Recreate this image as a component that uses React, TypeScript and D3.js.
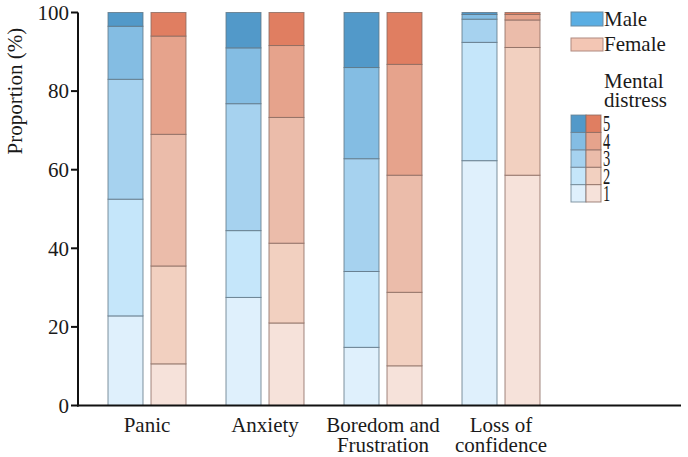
import React from "react";
import * as d3 from "d3";

const categories = ["Panic", "Anxiety", "Boredom and\nFrustration", "Loss of\nconfidence"];
const levels = [1, 2, 3, 4, 5];
// cumulative tops of each level (%)
const maleCum = [
  [22.8, 52.5, 83.0, 96.5, 100],
  [27.5, 44.5, 76.8, 91.0, 100],
  [14.8, 34.1, 62.8, 86.0, 100],
  [62.3, 92.4, 98.3, 99.5, 100],
];
const femaleCum = [
  [10.6, 35.5, 69.0, 94.0, 100],
  [21.0, 41.3, 73.3, 91.6, 100],
  [10.1, 28.8, 58.6, 86.8, 100],
  [58.6, 91.1, 98.1, 99.5, 100],
];
const yTicks = [0, 20, 40, 60, 80, 100];
const maleColors = ["#dff0fc", "#c5e6fa", "#a6d2ef", "#84bde3", "#5299c9"];
const femaleColors = ["#f6e2da", "#f2d0c0", "#ebbcaa", "#e6a38c", "#e07e61"];

export default function App() {
  const W = 688, H = 457;
  const font = "'Liberation Serif', 'Times New Roman', serif";
  const y = d3.scaleLinear().domain([0, 100]).range([405.5, 12.5]);
  const x = d3.scaleBand().domain(categories).range([88, 560]).paddingInner(0).paddingOuter(0);
  const barW = 35;
  const gap = 8;

  const bars: JSX.Element[] = [];
  categories.forEach((c, ci) => {
    const center = (x(c) as number) + x.bandwidth() / 2;
    [
      { cum: maleCum[ci], colors: maleColors, x0: center - gap / 2 - barW, stroke: "#5f7584" },
      { cum: femaleCum[ci], colors: femaleColors, x0: center + gap / 2, stroke: "#8a6a60" },
    ].forEach((s, si) => {
      s.cum.forEach((top, li) => {
        const bottom = li === 0 ? 0 : s.cum[li - 1];
        bars.push(
          <rect
            key={`${ci}-${si}-${li}`}
            x={s.x0}
            y={y(top)}
            width={barW}
            height={y(bottom) - y(top)}
            fill={s.colors[li]}
            stroke={s.stroke}
            strokeOpacity={0.8}
            strokeWidth={1}
          />
        );
      });
    });
  });

  return (
    <svg width={W} height={H} style={{ position: "absolute", left: 0, top: 0, background: "#fff" }}>
      <g fontFamily={font} fill="#1a1a1a">
        {bars}
        {/* y axis */}
        <line x1={78} x2={78} y1={y(100)} y2={y(0) + 1} stroke="#111" strokeWidth={2} />
        {yTicks.map((t) => (
          <g key={t}>
            <line x1={71} x2={78} y1={y(t)} y2={y(t)} stroke="#111" strokeWidth={2} />
            <text x={69} y={y(t)} dy="0.35em" textAnchor="end" fontSize={21}>
              {t}
            </text>
          </g>
        ))}
        <text
          transform={`translate(22,${y(80)}) rotate(-90)`}
          textAnchor="middle"
          fontSize={21}
        >
          Proportion (%)
        </text>
        {/* x axis */}
        <line x1={77} x2={681} y1={y(0)} y2={y(0)} stroke="#111" strokeWidth={2} />
        {categories.map((c) => {
          const cx = (x(c) as number) + x.bandwidth() / 2;
          const lines = c.split("\n");
          return (
            <text key={c} x={cx} y={432} textAnchor="middle" fontSize={21}>
              {lines.map((l, i) => (
                <tspan key={i} x={cx} dy={i === 0 ? 0 : 20}>
                  {l}
                </tspan>
              ))}
            </text>
          );
        })}
        {/* legend */}
        <rect x={571} y={12} width={32} height={14} fill="#5aaee3" stroke="#6a8aa0" strokeWidth={1} />
        <text x={604} y={26} fontSize={21}>Male</text>
        <rect x={571} y={38} width={32} height={13} fill="#f3c6b4" stroke="#b08a80" strokeWidth={1} />
        <text x={604} y={51} fontSize={21}>Female</text>
        <text x={604} y={88} fontSize={21}>Mental</text>
        <text x={604} y={107} fontSize={21}>distress</text>
        {levels.map((lv, i) => {
          const rowH = 17.4;
          const yy = 202 - (i + 1) * rowH;
          return (
            <g key={lv}>
              <rect x={571} y={yy} width={15} height={rowH} fill={maleColors[i]} stroke="#6a7f8e" strokeOpacity={0.8} />
              <rect x={586} y={yy} width={15} height={rowH} fill={femaleColors[i]} stroke="#8a6a60" strokeOpacity={0.8} />
              <text
                transform={`translate(603,${yy + rowH - 1}) scale(1,1.6)`}
                fontSize={14.5}
              >
                {lv}
              </text>
            </g>
          );
        })}
      </g>
    </svg>
  );
}
